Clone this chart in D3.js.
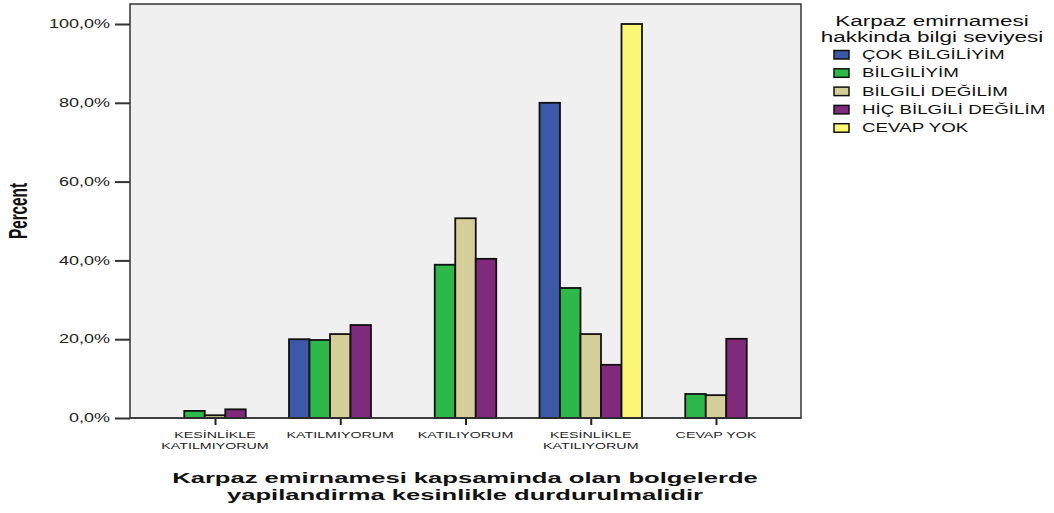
<!DOCTYPE html>
<html><head><meta charset="utf-8">
<script src="https://cdn.jsdelivr.net/npm/d3@7"></script>
<style>body{margin:0;background:#fff}svg{display:block}</style>
</head><body>
<script>
const categories = ["KESİNLİKLE KATILMIYORUM","KATILMIYORUM","KATILIYORUM","KESİNLİKLE KATILIYORUM","CEVAP YOK"];
const categoryLines = [["KESİNLİKLE","KATILMIYORUM"],["KATILMIYORUM"],["KATILIYORUM"],["KESİNLİKLE","KATILIYORUM"],["CEVAP YOK"]];
const seriesNames = ["ÇOK BİLGİLİYİM","BİLGİLİYİM","BİLGİLİ DEĞİLİM","HİÇ BİLGİLİ DEĞİLİM","CEVAP YOK"];
const seriesColors = ["#3e58a8","#2fb84a","#d4cf98","#7f2a7b","#fbf673"];
const cokBilgiliyim   = [0, 20.0, 0, 80.0, 0];
const bilgiliyim      = [1.8, 19.8, 38.9, 33.0, 6.1];
const bilgiliDegilim  = [0.7, 21.3, 50.7, 21.3, 5.8];
const hicBilgili      = [2.2, 23.6, 40.4, 13.5, 20.1];
const cevapYok        = [0, 0, 0, 100.0, 0];
const seriesValues = [cokBilgiliyim, bilgiliyim, bilgiliDegilim, hicBilgili, cevapYok];
const yTicks = [0,20,40,60,80,100];
const yTickLabels = ["0,0%","20,0%","40,0%","60,0%","80,0%","100,0%"];
const xTitle = ["Karpaz emirnamesi kapsaminda olan bolgelerde","yapilandirma kesinlikle durdurulmalidir"];
const yTitle = "Percent";
const legendTitle = ["Karpaz emirnamesi","hakkinda bilgi seviyesi"];

const W=1054,H=513;
const SX=1.5;
const svg=d3.select("body").append("svg").attr("width",W).attr("height",H);
const font="Liberation Sans, Arial, sans-serif";
const L=130,R=801,T=4,B=418;
const y=d3.scaleLinear().domain([0,100]).range([B,24]);
const x=d3.scalePoint().domain(categories).range([215,716]);
const bw=20.5;
const xs=d3.scaleBand().domain(seriesNames).range([-bw*2.5,bw*2.5]).padding(0);

function stext(px,py,str,size,anchor,sx,weight){
  return svg.append("text").attr("transform",`translate(${px},${py}) scale(${sx},1)`)
    .attr("text-anchor",anchor).attr("font-family",font).attr("font-size",size)
    .attr("font-weight",weight||"normal").attr("fill","#111").text(str);
}

svg.append("rect").attr("x",L).attr("y",T).attr("width",R-L).attr("height",B-T)
  .attr("fill","#f0f0f0").attr("stroke","#333").attr("stroke-width",1.5);

// y axis ticks
const yAxis=d3.axisLeft(y).tickValues(yTicks).tickFormat("").tickSize(15);
const yg=svg.append("g").attr("transform",`translate(${L},0)`).call(yAxis);
yg.select(".domain").remove();
yg.selectAll(".tick line").attr("stroke","#333").attr("stroke-width",2);
yTicks.forEach((v,i)=>stext(110,y(v)+4.2,yTickLabels[i],12,"end",SX).attr("fill","#222"));

// bars
const bars=[];
categories.forEach((c,ci)=>seriesNames.forEach((s,si)=>bars.push({c,s,si,v:seriesValues[si][ci]})));
svg.append("g").selectAll("rect").data(bars).join("rect")
  .attr("x",d=>x(d.c)+xs(d.s)).attr("width",xs.bandwidth())
  .attr("y",d=>y(d.v)).attr("height",d=>y(0)-y(d.v))
  .attr("fill",d=>seriesColors[d.si]).attr("stroke","#111").attr("stroke-width",1.8);

// x axis
const xAxis=d3.axisBottom(x).tickSize(7).tickFormat("");
const xg=svg.append("g").attr("transform",`translate(0,${B})`).call(xAxis);
xg.select(".domain").remove();
xg.selectAll(".tick line").attr("stroke","#222").attr("stroke-width",2);
svg.append("line").attr("x1",L).attr("x2",R).attr("y1",B).attr("y2",B).attr("stroke","#333").attr("stroke-width",1.5);
categories.forEach((c,ci)=>{
  categoryLines[ci].forEach((ln,li)=>stext(x(c),437.5+li*11,ln,9.5,"middle",SX).attr("fill","#222"));
});

// x title
const xt=xTitle.map((ln,i)=>stext(465,482.5+i*17,ln,15.5,"middle",1,"bold"));
const natural=xt[0].node().getComputedTextLength();
const xsx=586/natural;
xt.forEach((t,i)=>t.attr("transform",`translate(465,${482.5+i*17}) scale(${xsx},1)`));

// y title
svg.append("text").attr("transform","translate(27,211) rotate(-90) scale(1,1.45)").attr("text-anchor","middle")
  .attr("font-family","Liberation Sans Narrow, Liberation Sans, Arial").attr("font-weight","bold")
  .attr("font-size",17.5).attr("textLength",56).attr("lengthAdjust","spacingAndGlyphs").attr("fill","#111").text(yTitle);

// legend
legendTitle.forEach((ln,i)=>stext(932,26+i*15.5,ln,15,"middle",SX));
seriesNames.forEach((s,i)=>{
  const cy=54.5+i*18.3;
  svg.append("rect").attr("x",834).attr("y",cy-4).attr("width",15).attr("height",8.5)
    .attr("fill",seriesColors[i]).attr("stroke","#111").attr("stroke-width",1.5);
  stext(862,cy+4.5,s,12.5,"start",SX);
});
</script>
</body></html>
